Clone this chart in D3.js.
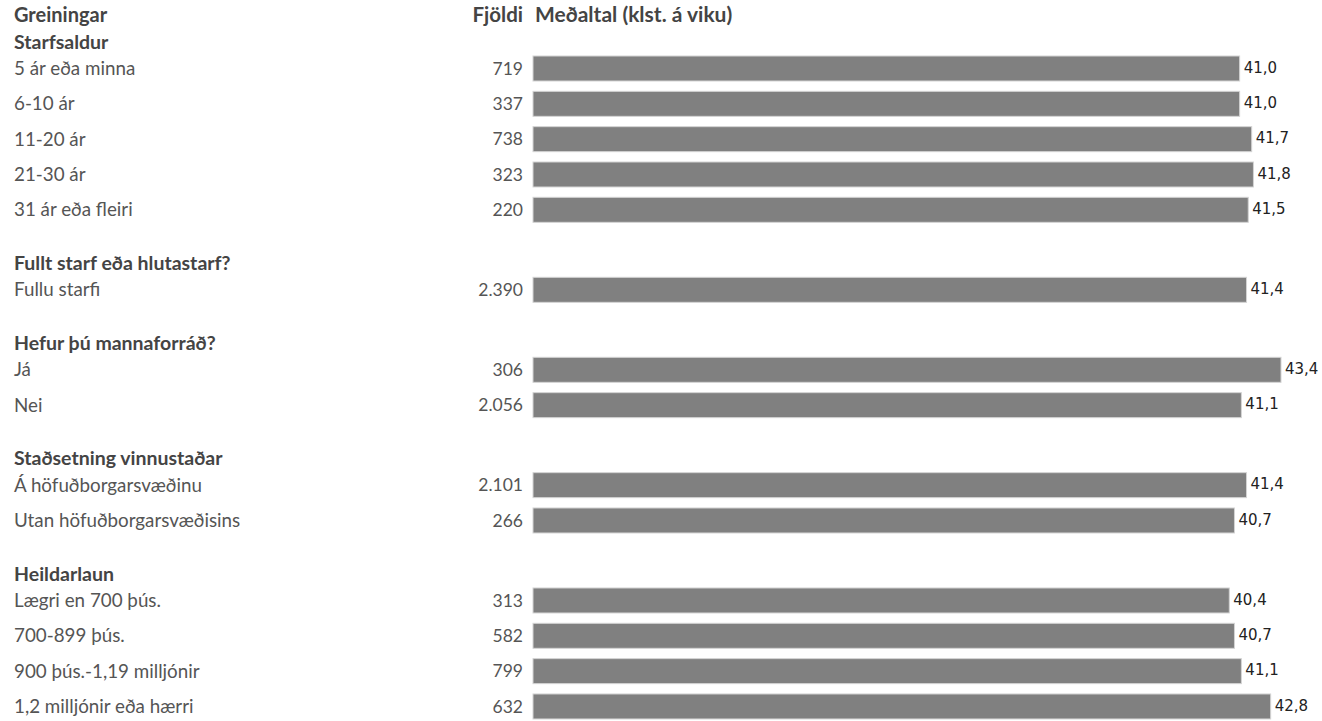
<!DOCTYPE html>
<html>
<head>
<meta charset="utf-8">
<script src="https://cdn.jsdelivr.net/npm/d3@7"></script>
<style>
  html, body { margin: 0; padding: 0; background: #fff; }
  svg { display: block; }
</style>
</head>
<body>
<svg id="chart" width="1322" height="721"></svg>
<script>
// ---- data ----
const groupTitles = [
  "Starfsaldur",
  "Fullt starf eða hlutastarf?",
  "Hefur þú mannaforráð?",
  "Staðsetning vinnustaðar",
  "Heildarlaun"
];
const categories = [
  "5 ár eða minna", "6-10 ár", "11-20 ár", "21-30 ár", "31 ár eða fleiri",
  "Fullu starfi",
  "Já", "Nei",
  "Á höfuðborgarsvæðinu", "Utan höfuðborgarsvæðisins",
  "Lægri en 700 þús.", "700-899 þús.", "900 þús.-1,19 milljónir", "1,2 milljónir eða hærri"
];
const groupOf = [0,0,0,0,0, 1, 2,2, 3,3, 4,4,4,4];
const counts = [719, 337, 738, 323, 220, 2390, 306, 2056, 2101, 266, 313, 582, 799, 632];
const means = [41.0, 41.0, 41.7, 41.8, 41.5, 41.4, 43.4, 41.1, 41.4, 40.7, 40.4, 40.7, 41.1, 42.8];
const headerLabels = ["Greiningar", "Fjöldi", "Meðaltal (klst. á viku)"];

// ---- layout ----
const svg = d3.select("#chart");
const labelFont = "Lato, 'Open Sans', sans-serif";
const valueFont = "'DejaVu Sans', Verdana, sans-serif";
const labelX = 14, countX = 523, barX0 = 533;
const x = d3.scaleLinear().domain([0, 43.4]).range([barX0, 1281]);

const firstHeadingY = 42, headToItem = 26.5, pitch = 35.33, groupStep = 80;
const rowY = [];
const headingY = [];
let cur = null;
categories.forEach((c, i) => {
  const g = groupOf[i];
  if (i === 0) {
    headingY[g] = firstHeadingY;
    cur = firstHeadingY + headToItem;
  } else if (g !== groupOf[i - 1]) {
    cur = cur + groupStep;
    headingY[g] = cur - headToItem;
  } else {
    cur = cur + pitch;
  }
  rowY.push(cur);
});

const fmtCount = d => d3.format(",")(d).replace(/,/g, ".");
const fmtMean = d => d3.format(".1f")(d).replace(".", ",");

// header
svg.append("text").attr("x", labelX).attr("y", 15).attr("dy", "0.35em")
  .attr("font-family", labelFont).attr("font-weight", 700).attr("font-size", 20)
  .attr("fill", "#444").text(headerLabels[0]);
svg.append("text").attr("x", 523).attr("y", 15).attr("dy", "0.35em")
  .attr("text-anchor", "end")
  .attr("font-family", labelFont).attr("font-weight", 700).attr("font-size", 20.5)
  .attr("fill", "#444").text(headerLabels[1]);
svg.append("text").attr("x", 535).attr("y", 15).attr("dy", "0.35em")
  .attr("font-family", labelFont).attr("font-weight", 700).attr("font-size", 21)
  .attr("fill", "#444")
  .text(headerLabels[2]);

// group headings
svg.selectAll("text.gh").data(groupTitles).join("text")
  .attr("class", "gh")
  .attr("x", labelX).attr("y", (d, i) => headingY[i]).attr("dy", "0.35em")
  .attr("font-family", labelFont).attr("font-weight", 700).attr("font-size", 19.5)
  .attr("fill", "#444").text(d => d);

// category labels
svg.selectAll("text.cat").data(categories).join("text")
  .attr("class", "cat")
  .attr("x", labelX).attr("y", (d, i) => rowY[i]).attr("dy", "0.35em")
  .attr("font-family", labelFont).attr("font-size", 18.8)
  .attr("fill", "#555").text(d => d);

// counts
svg.selectAll("text.cnt").data(counts).join("text")
  .attr("class", "cnt")
  .attr("x", countX).attr("y", (d, i) => rowY[i]).attr("dy", "0.35em")
  .attr("text-anchor", "end")
  .attr("font-family", labelFont).attr("font-size", 17.5)
  .attr("fill", "#555").text(d => fmtCount(d));

// bars
const barH = 25;
svg.selectAll("rect.bar").data(means).join("rect")
  .attr("class", "bar")
  .attr("x", x(0)).attr("y", (d, i) => rowY[i] - barH / 2)
  .attr("width", d => x(d) - x(0)).attr("height", barH)
  .attr("fill", "#808080").attr("stroke", "#d4d4d4").attr("stroke-width", 1);

// value labels
svg.selectAll("text.val").data(means).join("text")
  .attr("class", "val")
  .attr("x", d => x(d) + 4).attr("y", (d, i) => rowY[i] - 1).attr("dy", "0.35em")
  .attr("font-family", valueFont).attr("font-size", 15)
  .attr("fill", "#222").text(d => fmtMean(d));
</script>
</body>
</html>
